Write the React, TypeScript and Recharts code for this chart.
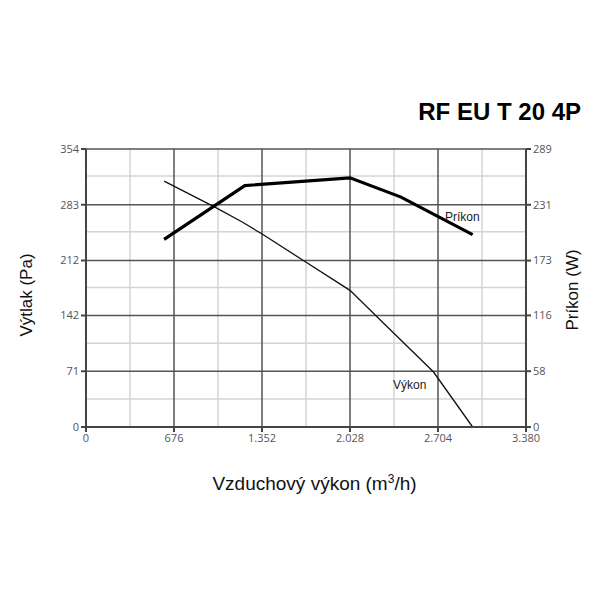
import React from 'react';
import { LineChart, Line, XAxis, YAxis, ReferenceLine } from 'recharts';

// airflow (m3/h) vs static pressure (Pa)
const vykonFlow = [600, 990, 1200, 1350, 1670, 2028, 2300, 2670, 2970];
const vykonPa = [313, 280, 261, 246, 212, 174, 130, 70, 0];

// airflow (m3/h) vs power input (W)
const prikonFlow = [600, 1220, 2028, 2420, 2970];
const prikonW = [195, 251, 259, 239, 200];

const xTicks = [0, 676, 1352, 2028, 2704, 3380];
const xMinor = [338, 1014, 1690, 2366, 3042];
const paTicks = [0, 71, 142, 212, 283, 354];
const paMinor = [35.5, 106.5, 177.5, 248.5, 319.5];
const wTicks = [0, 58, 116, 173, 231, 289];

const vykonData = vykonFlow.map((q, i) => ({ q, pa: vykonPa[i] }));
const prikonData = prikonFlow.map((q, i) => ({ q, w: prikonW[i] }));

const fmt = (v: number) =>
  v >= 1000 ? `${Math.floor(v / 1000)}.${String(v % 1000).padStart(3, '0')}` : String(v);

const TICK_FONT = { fontFamily: '"Open Sans", sans-serif', fontSize: 11, fill: '#555' };
const AXIS_STROKE = '#444';
const MAJOR = '#555';
const MINOR = '#d4d4d4';

export default function App() {
  return (
    <div style={{ position: 'absolute', left: 0, top: 0, width: 600, height: 600, background: '#fff', fontFamily: '"Liberation Sans", Arial, sans-serif' }}>
      <LineChart width={600} height={600} margin={{ top: 149, right: 0, bottom: 143, left: 0 }}>
        <XAxis
          type="number"
          dataKey="q"
          domain={[0, 3380]}
          ticks={xTicks}
          tickFormatter={fmt}
          height={30}
          tick={TICK_FONT}
          stroke={AXIS_STROKE}
          strokeWidth={2}
          tickSize={5}
          allowDataOverflow
        />
        <YAxis
          yAxisId="pa"
          type="number"
          domain={[0, 354]}
          ticks={paTicks}
          width={86}
          tick={TICK_FONT}
          stroke={AXIS_STROKE}
          strokeWidth={2}
          tickSize={5}
        />
        <YAxis
          yAxisId="w"
          orientation="right"
          type="number"
          domain={[0, 289]}
          ticks={wTicks}
          width={74}
          tick={TICK_FONT}
          stroke={AXIS_STROKE}
          strokeWidth={2}
          tickSize={5}
        />
        {xMinor.map((v) => (
          <ReferenceLine key={'xm' + v} x={v} yAxisId="pa" stroke={MINOR} strokeWidth={1.5} />
        ))}
        {paMinor.map((v) => (
          <ReferenceLine key={'ym' + v} y={v} yAxisId="pa" stroke={MINOR} strokeWidth={1.5} />
        ))}
        {xTicks.slice(1, -1).map((v) => (
          <ReferenceLine key={'xM' + v} x={v} yAxisId="pa" stroke={MAJOR} strokeWidth={1.5} />
        ))}
        {paTicks.slice(1).map((v) => (
          <ReferenceLine key={'yM' + v} y={v} yAxisId="pa" stroke={MAJOR} strokeWidth={1.5} />
        ))}
        <Line
          yAxisId="pa"
          data={vykonData}
          dataKey="pa"
          type="linear"
          stroke="#111"
          strokeWidth={1.3}
          dot={false}
          isAnimationActive={false}
        />
        <Line
          yAxisId="w"
          data={prikonData}
          dataKey="w"
          type="linear"
          stroke="#000"
          strokeWidth={3.2}
          dot={false}
          isAnimationActive={false}
        />
      </LineChart>

      <div style={{ position: 'absolute', right: 19, top: 98, fontSize: 24, fontWeight: 'bold', color: '#000' }}>
        RF EU T 20 4P
      </div>
      <div style={{ position: 'absolute', left: 445, top: 210, fontSize: 12, color: '#222' }}>Príkon</div>
      <div style={{ position: 'absolute', left: 393, top: 378, fontSize: 12, color: '#222' }}>Výkon</div>
      <div style={{ position: 'absolute', left: 0, width: 629, top: 472, textAlign: 'center', fontSize: 19, color: '#111' }}>
        Vzduchový výkon (m<sup style={{ fontSize: 12 }}>3</sup>/h)
      </div>
      <div
        style={{ position: 'absolute', left: 27, top: 295, transform: 'translate(-50%, -50%) rotate(-90deg)', whiteSpace: 'nowrap', fontSize: 17, color: '#111' }}
      >
        Výtlak (Pa)
      </div>
      <div
        style={{ position: 'absolute', left: 573, top: 290, transform: 'translate(-50%, -50%) rotate(-90deg)', whiteSpace: 'nowrap', fontSize: 17, color: '#111' }}
      >
        Príkon (W)
      </div>
    </div>
  );
}
